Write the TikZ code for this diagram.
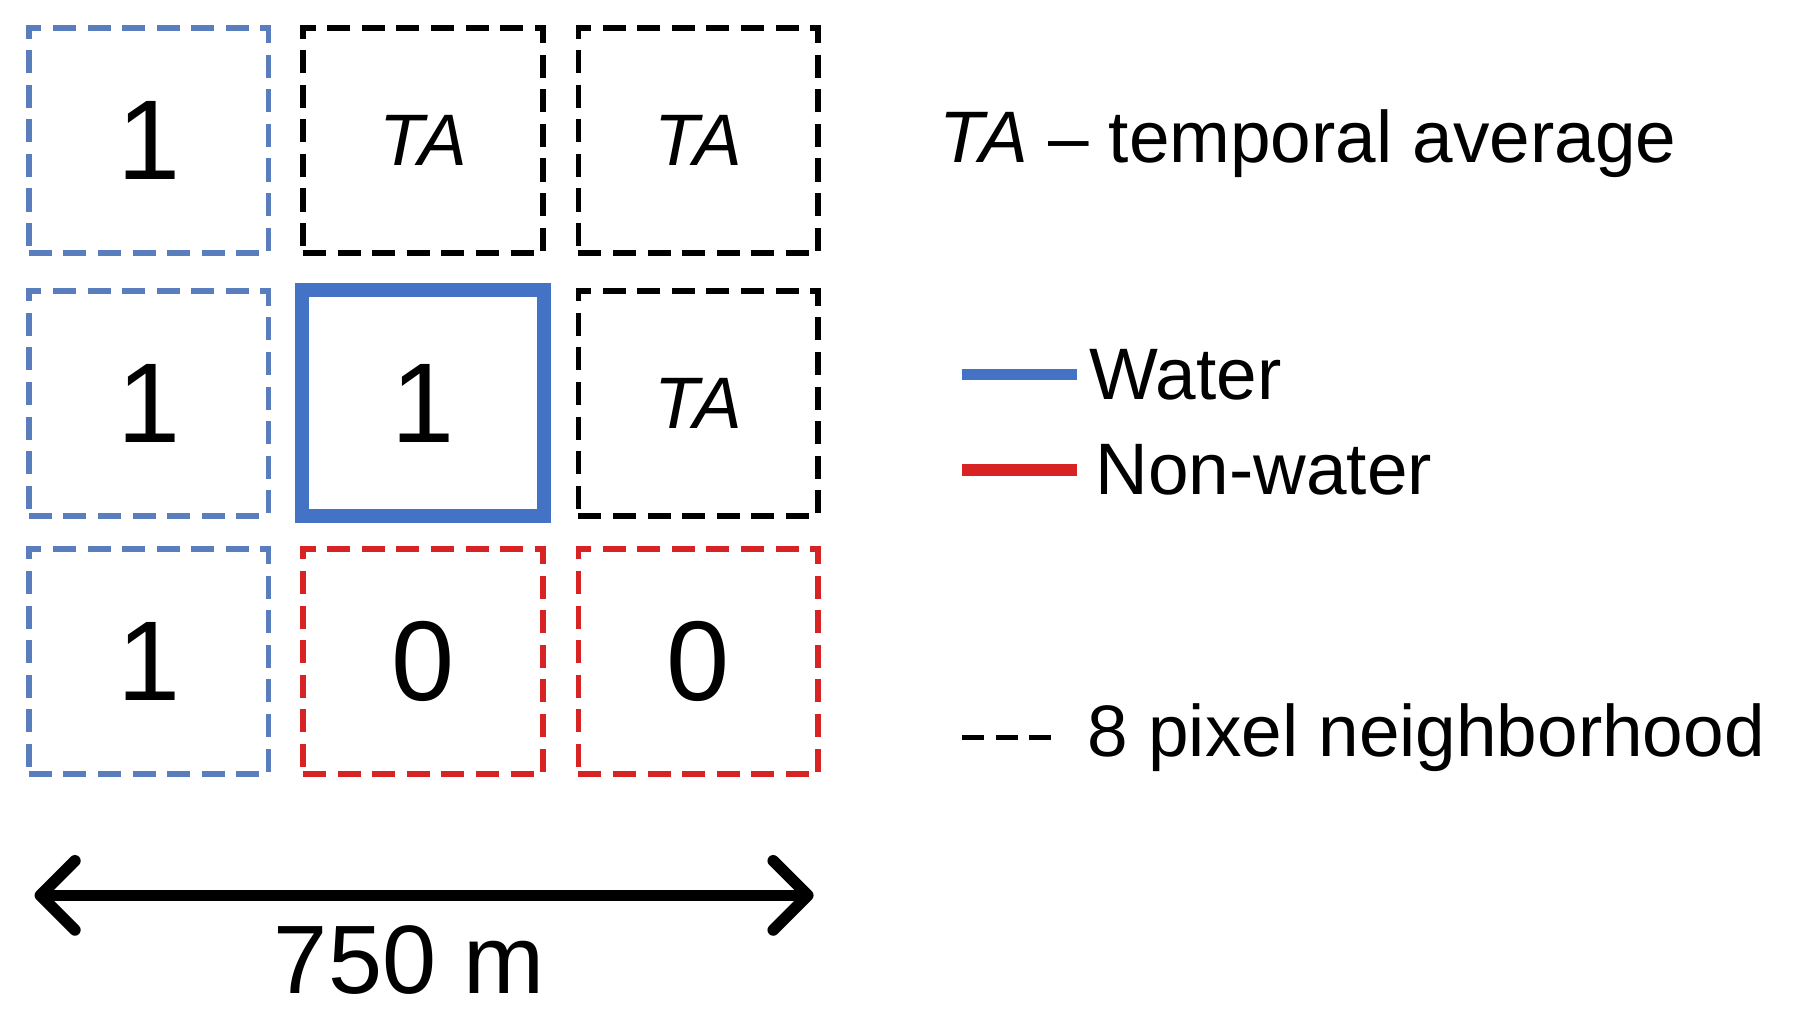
\documentclass[tikz,border=0pt]{standalone}
\usepackage{fontspec}
\setmainfont{Liberation Sans}
\usetikzlibrary{arrows.meta}
\definecolor{wblue}{RGB}{68,114,196}
\definecolor{dblue}{RGB}{90,125,190}
\definecolor{nred}{RGB}{215,35,35}
\begin{document}
\begin{tikzpicture}[x=0.01cm,y=-0.01cm,
  cell/.style={draw,dash pattern=on 0.2cm off 0.1cm,line width=0.05cm,minimum width=2.08cm,minimum height=1.95cm,inner sep=0,font=\fontsize{28}{30}\selectfont},
  leg/.style={anchor=west,font=\fontsize{18}{20}\selectfont,inner sep=0}]
\useasboundingbox (0,0) rectangle (1562,875);
\node[cell,dblue,text=black] (a1) at (129,122) {1};
\node[cell,black] (a2) at (367,122) {\fontsize{18}{20}\selectfont\itshape TA};
\node[cell,black] (a3) at (606,122) {\fontsize{18}{20}\selectfont\itshape TA};
\node[cell,dblue,text=black] (b1) at (129,350) {1};
\node[draw=wblue,line width=0.12cm,minimum width=2.1cm,minimum height=1.96cm,inner sep=0,font=\fontsize{28}{30}\selectfont] (b2) at (367,350) {1};
\node[cell,black] (b3) at (606,350) {\fontsize{18}{20}\selectfont\itshape TA};
\node[cell,dblue,text=black] (c1) at (129,574) {1};
\node[cell,nred,text=black] (c2) at (367,574) {0};
\node[cell,nred,text=black] (c3) at (606,574) {0};
\node[leg] (tl) at (815,125) {\textit{TA} – temporal average};
\coordinate (w1) at (835,325); \coordinate (w2) at (935,325);
\draw[wblue,line width=0.1cm] (w1) -- (w2);
\node[leg] (wt) at (945,325) {Water};
\coordinate (n1) at (835,408); \coordinate (n2) at (935,408);
\draw[nred,line width=0.1cm] (n1) -- (n2);
\node[leg] (nt) at (950,408) {Non-water};
\coordinate (d1) at (835,640); \coordinate (d2) at (918,640);
\draw[black,line width=0.05cm,dash pattern=on 0.19cm off 0.1cm] (d1) -- (d2);
\node[leg] (dt) at (943,640) {8 pixel neighborhood};
\coordinate (l) at (30,777); \coordinate (r) at (706,777);
\draw[line width=0.1cm,{Straight Barb[length=0.3cm,width=0.6cm,line width=0.1cm,round]}-{Straight Barb[length=0.3cm,width=0.6cm,line width=0.1cm,round]}] (l) -- (r);
\node[font=\fontsize{24}{26}\selectfont] (m) at (355,833) {750 m};
\end{tikzpicture}
\end{document}
